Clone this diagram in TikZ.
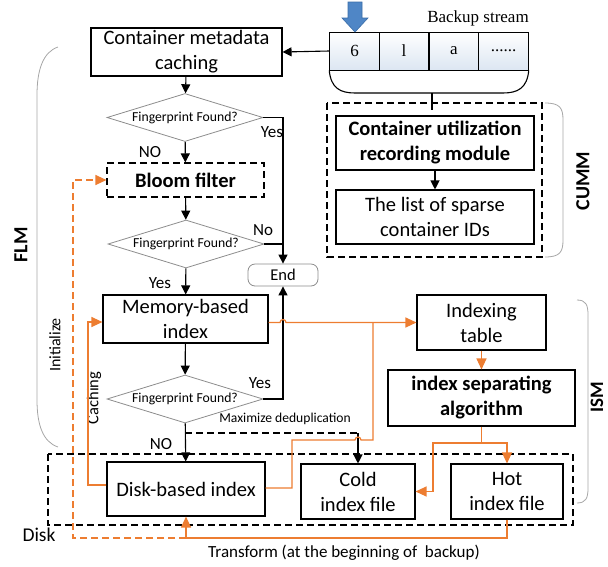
\documentclass[tikz,border=0pt]{standalone}
\usepackage{fontspec}
\setmainfont{Carlito}
\newfontfamily\seriffam{Liberation Serif}
\usetikzlibrary{arrows.meta,shapes.geometric,calc}
\definecolor{org}{HTML}{ED7D31}
\definecolor{brk}{HTML}{A6A6A6}
\definecolor{dgray}{HTML}{8C8C8C}
\definecolor{cellblue}{HTML}{DCE6F2}
\definecolor{arrblue}{HTML}{4F86C6}
\definecolor{arrblued}{HTML}{3A6DA8}
\tikzset{
  box/.style={draw, line width=1.1pt, align=center, inner sep=0pt, font=\fontsize{20.5}{25}\selectfont},
  boldbox/.style={box, font=\fontsize{20.5}{25}\selectfont\bfseries},
  dec/.style={diamond, aspect=3.25, draw=dgray, line width=0.8pt, inner sep=0pt, minimum width=156pt, minimum height=48pt, font=\fontsize{13.7}{16}\selectfont},
  flow/.style={line width=1.1pt, -{Triangle[length=9pt,width=9pt]}},
  oline/.style={draw=org, line width=1.2pt},
  oflow/.style={oline, -{Triangle[length=11pt,width=10pt]}},
  lbl/.style={font=\fontsize{17}{20}\selectfont, inner sep=0pt},
  brack/.style={draw=brk, line width=0.8pt},
  side/.style={font=\fontsize{20}{24}\selectfont\bfseries, rotate=90, inner sep=0pt},
  cell/.style={draw, line width=1pt, minimum width=49.5pt, minimum height=38pt, inner sep=0pt, top color=white, bottom color=cellblue, font=\seriffam\fontsize{17}{20}\selectfont},
  dsh/.style={dash pattern=on 7pt off 4pt},
}
\begin{document}
\begin{tikzpicture}[x=1pt,y=-1pt]
\useasboundingbox (0,0) rectangle (608,566);

% ---- backup stream
\node[cell] (c1) at (354.5,51) {6};
\node[cell] (c2) at (404,51) {l};
\node[cell] (c3) at (454,51) {a};
\node[cell] (c4) at (503.5,51) {......};
\node[font=\seriffam\fontsize{17}{20}\selectfont, inner sep=0pt] (bs) at (478,18) {Backup stream};
\fill[arrblue, draw=arrblued, line width=0.6pt] (348,2) -- (362,2) -- (362,18) -- (368,18) -- (355,32) -- (342,18) -- (348,18) -- cycle;
\draw[line width=1.1pt] (c1.south west) .. controls (331,88) and (340,93) .. (355,93) -- (503,93) .. controls (518,93) and (527,88) .. (c4.south east);
\coordinate (bk) at (432,93);

% ---- CUMM
\draw[line width=1.1pt, dsh] (327,103) rectangle (542,257);
\node[boldbox, minimum width=198pt, minimum height=54pt] (curm) at (435,143) {Container utilization\\recording module};
\node[box, minimum width=198pt, minimum height=54pt] (list) at (435,217) {The list of sparse\\container IDs};
\draw[line width=1.1pt] (bk) -- (bk |- 0,110);
\draw[flow] (curm) -- (list);
\draw[brack] (545,103) .. controls (560,103) and (563,108) .. (563,120) -- (563,240) .. controls (563,252) and (560,257) .. (545,257);
\node[side] (cumm) at (583,181) {CUMM};

% ---- FLM column
\node[box, minimum width=191pt, minimum height=48pt] (cmc) at (186.5,52) {Container metadata\\caching};
\node[dec] (d1) at (185,117.5) {Fingerprint Found?};
\node[box, dsh, minimum width=157pt, minimum height=34pt, font=\fontsize{20.5}{25}\selectfont\bfseries] (bloom) at (185.5,180) {Bloom filter};
\node[dec] (d2) at (186,244) {Fingerprint Found?};
\node[draw=dgray, rounded corners=7pt, line width=0.8pt, minimum width=70pt, minimum height=22pt, inner sep=0pt, font=\fontsize{16.5}{20}\selectfont] (endn) at (283,275) {End};
\node[box, minimum width=165pt, minimum height=48pt] (mem) at (185.5,319) {Memory-based\\index};
\node[dec] (d3) at (185,399) {Fingerprint Found?};

\draw[flow] (c1.west) -- (cmc.east);
\draw[flow] (cmc) -- (d1);
\draw[flow] (d1) -- (bloom);
\draw[flow] (bloom) -- (d2);
\draw[flow] (d2) -- (mem);
\draw[flow] (mem) -- (d3);
\draw[flow] (d1.east) -- (endn.north |- d1.east) -- (endn.north);
\draw[line width=1.1pt] (d2.east) -- (endn.north |- d2.east);
\draw[flow] (d3.east) -- (endn.south |- d3.east) -- (endn.south);

\node[lbl] (y1) at (272,132) {Yes};
\node[lbl] (n1) at (150,152) {NO};
\node[lbl] (n2) at (263,230) {No};
\node[lbl] (y2) at (160,283) {Yes};
\node[lbl] (y3) at (260,383) {Yes};
\node[lbl] (n3) at (161,444) {NO};
\node[font=\fontsize{13.6}{16}\selectfont, inner sep=0pt] (maxd) at (285,419) {Maximize deduplication};

\draw[brack] (58,47) .. controls (43,52) and (37,70) .. (37,95) -- (37,400) .. controls (37,425) and (43,442) .. (58,447);
\node[side] (flm) at (21,245) {FLM};
\node[font=\fontsize{16}{20}\selectfont, rotate=90, inner sep=0pt] (init) at (55,345) {Initialize};
\node[font=\fontsize{16.5}{20}\selectfont, rotate=90, inner sep=0pt] (cach) at (94,398) {Caching};

% ---- ISM
\node[box, minimum width=129pt, minimum height=55pt] (idx) at (481.5,322.5) {Indexing\\table};
\node[boldbox, minimum width=187pt, minimum height=56pt] (isa) at (481.5,398) {index separating\\algorithm};
\draw[brack] (577,300) .. controls (586,300) and (588,305) .. (588,315) -- (588,488) .. controls (588,498) and (586,503) .. (577,503);
\node[side, font=\fontsize{19}{22}\selectfont\bfseries] (ism) at (597,397) {ISM};

% ---- Disk
\draw[line width=1.1pt, dsh] (48,454) rectangle (573,525);
\node[box, minimum width=158pt, minimum height=54pt] (disk) at (186,489) {Disk-based index};
\node[box, minimum width=114pt, minimum height=55pt] (cold) at (358,491.5) {Cold\\index file};
\node[box, minimum width=112pt, minimum height=55pt] (hot) at (507,491.5) {Hot\\index file};
\node[font=\fontsize{19.5}{22}\selectfont, inner sep=0pt] (dl) at (39,535) {Disk};
\node[font=\fontsize{17}{20}\selectfont, inner sep=0pt] (tr) at (344,553) {Transform (at the beginning of\ \ backup)};

\draw[flow] (d3) -- (disk);
\coordinate (md) at (cold.north |- 0,433);
\draw[line width=1.1pt, dsh] (d3.south |- md) -- (md);
\draw[flow] (md) -- (cold.north);

% ---- orange connectors
\coordinate (jn) at (373,322.5);
\draw[oflow] (mem.east |- idx.west) -- (280,322.5) arc[start angle=180,end angle=0,radius=3pt] -- (idx.west);
\draw[oline] (disk.east |- 0,488) -- (292,488) -- (292,440) -- (355,440) arc[start angle=180,end angle=0,radius=3pt] -- (jn |- 0,440) -- (jn);
\draw[oflow] (idx) -- (isa);
\coordinate (sp) at (isa.south |- 0,443);
\draw[oline] (isa.south) -- (sp);
\draw[oflow] (sp) -- (hot.north |- sp) -- (hot.north);
\draw[oflow] (sp) -- (433,443) -- (433,491.5) -- (cold.east);
\draw[oflow] (disk.west |- 0,485) -- (88,485) -- (88,322) -- (mem.west |- 0,322);
\draw[oflow, dsh] (disk.south |- 0,538) -- (73,538) -- (73,180) -- (bloom.west);
\draw[oflow] (hot.south) -- (hot.south |- 0,538) -- (disk.south |- 0,538) -- (disk.south);
\end{tikzpicture}
\end{document}
